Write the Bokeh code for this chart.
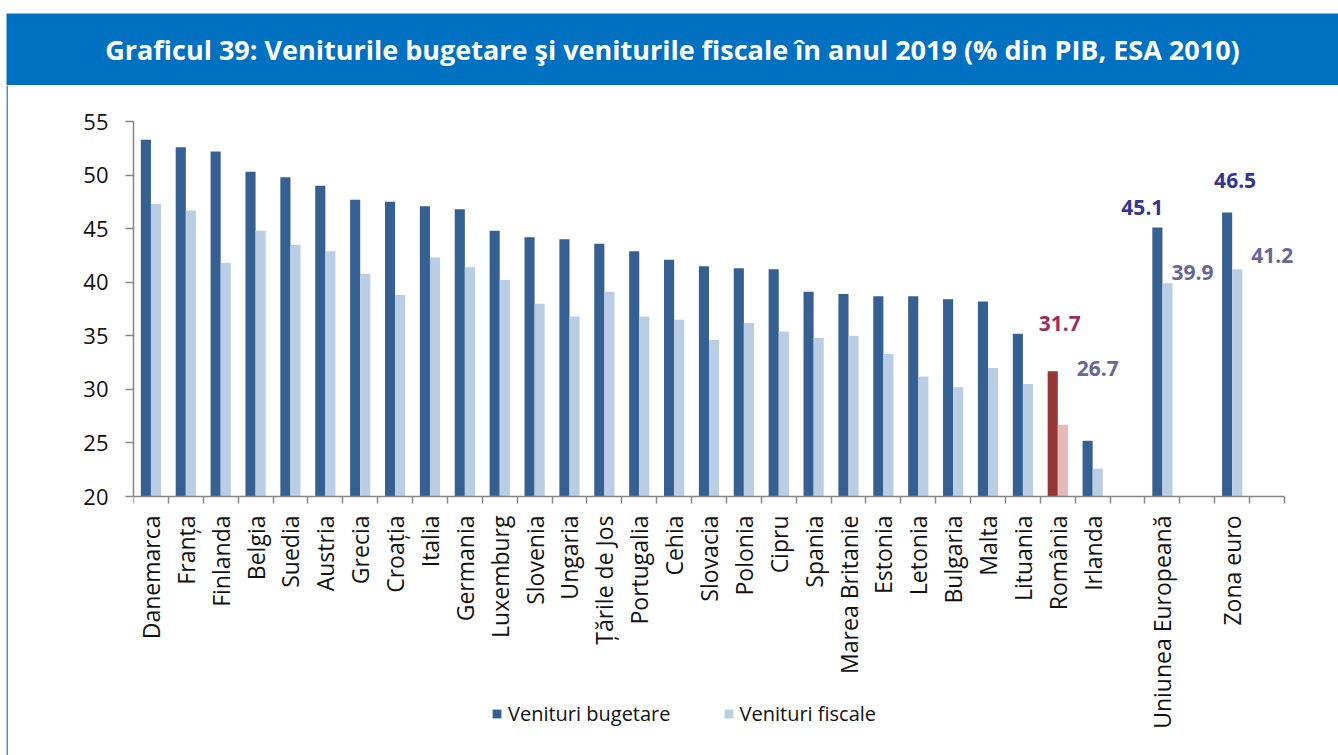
import math
from bokeh.plotting import figure
from bokeh.models import ColumnDataSource, Range1d, FixedTicker, Legend, LegendItem
from bokeh.layouts import column, row
from bokeh.embed import file_html
from bokeh.resources import INLINE
from bokeh.core.properties import value

# ---------------- data ----------------
TITLE = "Graficul 39: Veniturile bugetare şi veniturile fiscale în anul 2019 (% din PIB, ESA 2010)"

categories = ["Danemarca", "Franța", "Finlanda", "Belgia", "Suedia", "Austria", "Grecia",
              "Croația", "Italia", "Germania", "Luxemburg", "Slovenia", "Ungaria",
              "Țările de Jos", "Portugalia", "Cehia", "Slovacia", "Polonia", "Cipru",
              "Spania", "Marea Britanie", "Estonia", "Letonia", "Bulgaria", "Malta",
              "Lituania", "România", "Irlanda", "Uniunea Europeană", "Zona euro"]

venituri_bugetare = [53.3, 52.6, 52.2, 50.3, 49.8, 49.0, 47.7, 47.5, 47.1, 46.8, 44.8, 44.2,
                     44.0, 43.6, 42.9, 42.1, 41.5, 41.3, 41.2, 39.1, 38.9, 38.7, 38.7, 38.4,
                     38.2, 35.2, 31.7, 25.2, 45.1, 46.5]

venituri_fiscale = [47.3, 46.7, 41.8, 44.8, 43.5, 42.9, 40.8, 38.8, 42.3, 41.4, 40.2, 38.0,
                    36.8, 39.1, 36.8, 36.5, 34.6, 36.2, 35.4, 34.8, 35.0, 33.3, 31.2, 30.2,
                    32.0, 30.5, 26.7, 22.6, 39.9, 41.2]

y_ticks = [20, 25, 30, 35, 40, 45, 50, 55]
series_names = ["Venituri bugetare", "Venituri fiscale"]
aggregates = ["Uniunea Europeană", "Zona euro"]
highlight = "România"

# ---------------- styles ----------------
DARK = "#376092"
LIGHT = "#B9CDE5"
HL_DARK = "#953735"
HL_LIGHT = "#E6B9B8"
AXIS_GRAY = "#868686"
BANNER = "#0070C0"
EDGE = "#558ED5"
TXT = "#111111"
FONT = "Open Sans"
BAR_W = 0.29
Y_MIN, Y_MAX = y_ticks[0], y_ticks[-1]
PX_PER_UNIT = 375 / (Y_MAX - Y_MIN)
PX_PER_SLOT = 1151 / 33


def no_align(fig):
    try:
        fig.frame_align = False
    except Exception:
        pass


# slot positions: countries consecutive, blank slot before each aggregate, blank at end
slots = []
pos = 0
for c in categories:
    if c in aggregates:
        pos += 1
    slots.append(pos)
    pos += 1
n_slots = pos + 1
centers = [s + 0.5 for s in slots]

dark_colors = [HL_DARK if c == highlight else DARK for c in categories]
light_colors = [HL_LIGHT if c == highlight else LIGHT for c in categories]

src = ColumnDataSource(dict(
    xd=[c - BAR_W / 2 for c in centers],
    xl=[c + BAR_W / 2 for c in centers],
    vb=venituri_bugetare, vf=venituri_fiscale,
    cd=dark_colors, cl=light_colors,
))

# ---------------- banner ----------------
banner = figure(width=1338, height=85, x_range=Range1d(0, 1), y_range=Range1d(0, 1),
                output_backend="svg", toolbar_location=None,
                min_border_left=6, min_border_right=0, min_border_top=13, min_border_bottom=0,
                x_axis_type=None, y_axis_type=None)
no_align(banner)
banner.outline_line_color = None
banner.background_fill_color = BANNER
banner.border_fill_color = "white"
banner.grid.visible = False
banner.text(x=[0.5], y=[0.5], text=[TITLE], text_align="center", text_baseline="middle",
            text_color="white", text_font=value(FONT), text_font_style="bold",
            text_font_size="27px")

# ---------------- left edge line ----------------
CH = 670
edge = figure(width=8, height=CH, x_range=Range1d(0, 1), y_range=Range1d(0, 1),
              output_backend="svg", toolbar_location=None,
              min_border_left=6, min_border_right=0, min_border_top=0, min_border_bottom=0,
              x_axis_type=None, y_axis_type=None)
no_align(edge)
edge.outline_line_color = None
edge.background_fill_color = EDGE
edge.border_fill_color = "white"
edge.grid.visible = False

# ---------------- chart ----------------
MB_TOP, MB_BOTTOM, MB_LEFT, MB_RIGHT = 36, 20, 125, 28
frame_h = CH - MB_TOP - MB_BOTTOM
frame_w = 1330 - MB_LEFT - MB_RIGHT
y_start = Y_MAX - frame_h / PX_PER_UNIT
x_end = frame_w / PX_PER_SLOT

p = figure(width=1330, height=CH, x_range=Range1d(0, x_end), y_range=Range1d(y_start, Y_MAX),
           output_backend="svg", toolbar_location=None,
           min_border_left=MB_LEFT, min_border_right=MB_RIGHT,
           min_border_top=MB_TOP, min_border_bottom=MB_BOTTOM)
no_align(p)
p.outline_line_color = None
p.grid.visible = False
p.background_fill_color = "white"
p.border_fill_color = "white"

r_dark = p.vbar(x="xd", top="vb", bottom=Y_MIN, width=BAR_W, source=src,
                fill_color="cd", line_color=None)
r_light = p.vbar(x="xl", top="vf", bottom=Y_MIN, width=BAR_W, source=src,
                 fill_color="cl", line_color=None)

# y axis
ya = p.yaxis[0]
ya.bounds = (Y_MIN, Y_MAX)
ya.ticker = FixedTicker(ticks=y_ticks, minor_ticks=[])
ya.axis_line_color = AXIS_GRAY
ya.axis_line_width = 1.5
ya.major_tick_line_color = AXIS_GRAY
ya.major_tick_line_width = 1.5
ya.major_tick_in = 0
ya.major_tick_out = 8
ya.minor_tick_line_color = None
ya.major_label_text_font = FONT
ya.major_label_text_font_size = "22px"
ya.major_label_text_color = TXT
ya.major_label_standoff = 17

# x axis: line at y=20 with boundary ticks between categories
xa = p.xaxis[0]
xa.fixed_location = Y_MIN
xa.bounds = (0, n_slots)
xa.ticker = FixedTicker(ticks=[], minor_ticks=list(range(0, n_slots + 1)))
xa.axis_line_color = AXIS_GRAY
xa.axis_line_width = 1.5
xa.major_tick_line_color = None
xa.minor_tick_line_color = AXIS_GRAY
xa.minor_tick_line_width = 1.5
xa.minor_tick_in = 0
xa.minor_tick_out = 7
xa.major_label_text_font_size = "0px"

# category labels, rotated, hanging under the axis
p.text(x=centers, y=[Y_MIN] * len(centers), text=categories, angle=math.pi / 2,
       y_offset=19, text_align="right", text_baseline="middle", text_color=TXT,
       text_font=value(FONT), text_font_size="23px")

# value labels for Romania and aggregates
lab_specs = [
    # (category, series, color, x_off px, y_off px)
    (highlight, 0, "#9B2D5F", 7, -48),
    (highlight, 1, "#66669A", 35, -56),
    (aggregates[0], 0, "#333399", -15, -20),
    (aggregates[0], 1, "#66669A", 25, -11),
    (aggregates[1], 0, "#333399", 8, -32),
    (aggregates[1], 1, "#66669A", 35, -14),
]
for cat, ser, col, xo, yo in lab_specs:
    i = categories.index(cat)
    xv = centers[i] + (-BAR_W / 2 if ser == 0 else BAR_W / 2)
    yv = venituri_bugetare[i] if ser == 0 else venituri_fiscale[i]
    p.text(x=[xv], y=[yv], text=[f"{yv:.1f}"], x_offset=xo, y_offset=yo,
           text_align="center", text_baseline="middle", text_color=col,
           text_font=value(FONT), text_font_style="bold", text_font_size="21px")

legend = Legend(items=[LegendItem(label=series_names[0], renderers=[r_dark], index=0),
                       LegendItem(label=series_names[1], renderers=[r_light], index=0)],
                location=(358, 8), orientation="horizontal",
                glyph_width=11, glyph_height=11, label_standoff=6, spacing=52,
                padding=0, margin=0, border_line_color=None, background_fill_alpha=0,
                label_text_font=FONT, label_text_font_size="20px", label_text_color=TXT)
p.add_layout(legend, "center")

layout = column(banner, row(edge, p, spacing=0), spacing=0)
open("out.html", "w").write(file_html(layout, INLINE))
